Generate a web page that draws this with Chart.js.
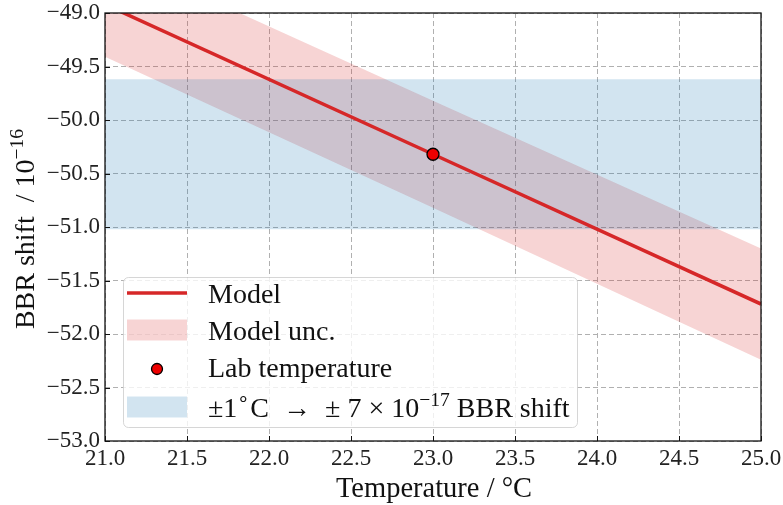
<!DOCTYPE html>
<html>
<head>
<meta charset="utf-8">
<script src="https://cdn.jsdelivr.net/npm/chart.js@4.4.1/dist/chart.umd.min.js"></script>
<style>
  html, body { margin: 0; padding: 0; background: #ffffff; }
  #wrap { width: 783px; height: 505px; }
</style>
</head>
<body>
<div id="wrap"><canvas id="c" width="783" height="505"></canvas></div>
<script>
// BBR shift (units of 1e-16) versus temperature (°C)
const temperatures = [21.0, 23.0, 25.0];
const modelShift   = [-48.92, -50.32, -51.72];
const modelUpper   = [-48.43, -49.82, -51.20];
const modelLower   = [-49.41, -50.82, -52.24];

const labTemperature = 23.0;
const labShift = -50.32;

// ±1 °C around the lab temperature mapped onto the shift axis
const bandTemps = [21.0, 25.0];
const bandUpper = [-49.62, -49.62];
const bandLower = [-51.02, -51.02];

const xTicks = [21.0, 21.5, 22.0, 22.5, 23.0, 23.5, 24.0, 24.5, 25.0];
const yTicks = [-53.0, -52.5, -52.0, -51.5, -51.0, -50.5, -50.0, -49.5, -49.0];

const SERIF = '"Liberation Serif", "Times New Roman", serif';
const RED = '#d62728';
const PINK = 'rgba(214, 39, 40, 0.2)';
const BLUE = 'rgba(31, 119, 180, 0.2)';

const pts = (xs, ys) => xs.map((x, i) => ({ x: x, y: ys[i] }));
const fmt = v => v.toFixed(1).replace('-', '\u2212');

// draw a run of text pieces, some raised as superscripts
function richWidth(ctx, parts, size) {
  let w = 0;
  for (const p of parts) {
    ctx.font = (p.sup ? size * 0.7 : size) + 'px ' + SERIF;
    w += ctx.measureText(p.t).width;
  }
  return w;
}
function drawRich(ctx, parts, x, y, size) {
  for (const p of parts) {
    const s = p.sup ? size * 0.7 : size;
    ctx.font = s + 'px ' + SERIF;
    ctx.fillText(p.t, x, p.sup ? y - size * 0.38 : y);
    x += ctx.measureText(p.t).width;
  }
}

const framePlugin = {
  id: 'frame',
  afterDatasetsDraw(chart) {
    const { ctx, chartArea: a, scales } = chart;
    ctx.save();
    ctx.strokeStyle = '#111';
    ctx.lineWidth = 1;
    const tl = 5;
    ctx.beginPath();
    for (const v of xTicks) {
      const px = Math.round(scales.x.getPixelForValue(v)) + 0.5;
      ctx.moveTo(px, a.bottom); ctx.lineTo(px, a.bottom - tl);
    }
    for (const v of yTicks) {
      const py = Math.round(scales.y.getPixelForValue(v)) + 0.5;
      ctx.moveTo(a.left, py); ctx.lineTo(a.left + tl, py);
    }
    ctx.stroke();
    ctx.lineWidth = 1.3;
    ctx.strokeRect(a.left, a.top, a.right - a.left, a.bottom - a.top);
    ctx.restore();
  }
};

const titlesPlugin = {
  id: 'titles',
  afterDraw(chart) {
    const { ctx, chartArea: a } = chart;
    ctx.save();
    ctx.fillStyle = '#111';
    ctx.textBaseline = 'alphabetic';
    // x axis title
    ctx.font = '28.5px ' + SERIF;
    ctx.textAlign = 'center';
    ctx.fillText('Temperature / \u00B0C', (a.left + a.right) / 2 + 1, a.bottom + 56);
    // y axis title, rotated, with a superscript exponent
    ctx.textAlign = 'left';
    const parts = [{ t: 'BBR shift  / 10' }, { t: '\u221216', sup: true }];
    const w = richWidth(ctx, parts, 28);
    ctx.translate(34, (a.top + a.bottom) / 2 + 2);
    ctx.rotate(-Math.PI / 2);
    drawRich(ctx, parts, -w / 2, 0, 28);
    ctx.restore();
  }
};

const legendPlugin = {
  id: 'boxLegend',
  afterDraw(chart) {
    const { ctx, chartArea: a } = chart;
    const x0 = a.left + 18, y0 = a.bottom - 164, x1 = a.left + 472, y1 = a.bottom - 14;
    ctx.save();
    ctx.beginPath();
    ctx.roundRect(x0 + 0.5, y0 + 0.5, x1 - x0, y1 - y0, 5);
    ctx.fillStyle = 'rgba(255,255,255,0.8)';
    ctx.fill();
    ctx.strokeStyle = 'rgba(204,204,204,0.8)';
    ctx.lineWidth = 1;
    ctx.stroke();

    const hx0 = x0 + 4, hx1 = x0 + 64, tx = x0 + 85;
    const rows = [y0 + 16, y0 + 53, y0 + 92, y0 + 130];
    // line handle
    ctx.strokeStyle = RED; ctx.lineWidth = 3.5;
    ctx.beginPath(); ctx.moveTo(hx0, rows[0]); ctx.lineTo(hx1, rows[0]); ctx.stroke();
    // band handles
    ctx.fillStyle = PINK; ctx.fillRect(hx0, rows[1] - 10.5, hx1 - hx0, 21);
    ctx.fillStyle = BLUE; ctx.fillRect(hx0, rows[3] - 10.5, hx1 - hx0, 21);
    // marker handle
    ctx.beginPath(); ctx.arc((hx0 + hx1) / 2, rows[2], 5.5, 0, Math.PI * 2);
    ctx.fillStyle = '#ee0000'; ctx.fill();
    ctx.strokeStyle = '#000'; ctx.lineWidth = 1.3; ctx.stroke();

    ctx.fillStyle = '#111';
    ctx.textBaseline = 'alphabetic';
    ctx.textAlign = 'left';
    const size = 28;
    ctx.font = size + 'px ' + SERIF;
    ctx.fillText('Model', tx, rows[0] + 10);
    ctx.fillText('Model unc.', tx, rows[1] + 10);
    ctx.fillText('Lab temperature', tx, rows[2] + 8);
    drawRich(ctx, [
      { t: '\u00B11' }, { t: '\u2218', sup: true }, { t: 'C  \u2192  \u00B1 7 \u00D7 10' },
      { t: '\u221217', sup: true }, { t: ' BBR shift' }
    ], tx, rows[3] + 10, size);
    ctx.restore();
  }
};

const tickFont = { family: SERIF, size: 23, lineHeight: 1 };

new Chart(document.getElementById('c'), {
  type: 'line',
  data: {
    datasets: [
      { label: 'Model unc.', data: pts(temperatures, modelUpper), fill: '+1', backgroundColor: PINK,
        borderWidth: 0, pointRadius: 0, order: 5 },
      { label: 'Model unc. lower', data: pts(temperatures, modelLower), fill: false,
        borderWidth: 0, pointRadius: 0, order: 5 },
      { label: 'BBR shift band', data: pts(bandTemps, bandUpper), fill: '+1', backgroundColor: BLUE,
        borderWidth: 0, pointRadius: 0, order: 4 },
      { label: 'BBR shift band lower', data: pts(bandTemps, bandLower), fill: false,
        borderWidth: 0, pointRadius: 0, order: 4 },
      { label: 'Model', data: pts(temperatures, modelShift), borderColor: RED, borderWidth: 3.5,
        pointRadius: 0, fill: false, order: 2 },
      { label: 'Lab temperature', data: [{ x: labTemperature, y: labShift }], showLine: false,
        pointRadius: 6, pointBackgroundColor: '#ee0000', pointBorderColor: '#000',
        pointBorderWidth: 1.3, order: 1 }
    ]
  },
  options: {
    responsive: false,
    animation: false,
    devicePixelRatio: 1,
    layout: { padding: { left: 0, right: 22, top: 13, bottom: 0 } },
    plugins: { legend: { display: false }, tooltip: { enabled: false } },
    elements: { line: { tension: 0 } },
    scales: {
      x: {
        type: 'linear', min: 21, max: 25,
        afterBuildTicks: s => { s.ticks = xTicks.map(v => ({ value: v })); },
        afterFit: s => { s.height = 64; s.paddingLeft = 0; s.paddingRight = 0; },
        ticks: { callback: v => fmt(v), font: tickFont, color: '#222', padding: 6,
                 maxRotation: 0, autoSkip: false },
        grid: { color: '#b0b0b0', lineWidth: 1, drawTicks: false },
        border: { display: false, dash: [5, 3] }
      },
      y: {
        type: 'linear', min: -53, max: -49,
        afterBuildTicks: s => { s.ticks = yTicks.map(v => ({ value: v })); },
        afterFit: s => { s.width = 105; s.paddingTop = 0; s.paddingBottom = 0; },
        ticks: { callback: v => fmt(v), font: tickFont, color: '#222', padding: 5, autoSkip: false },
        grid: { color: '#b0b0b0', lineWidth: 1, drawTicks: false },
        border: { display: false, dash: [5, 3] }
      }
    }
  },
  plugins: [framePlugin, titlesPlugin, legendPlugin]
});
</script>
</body>
</html>
